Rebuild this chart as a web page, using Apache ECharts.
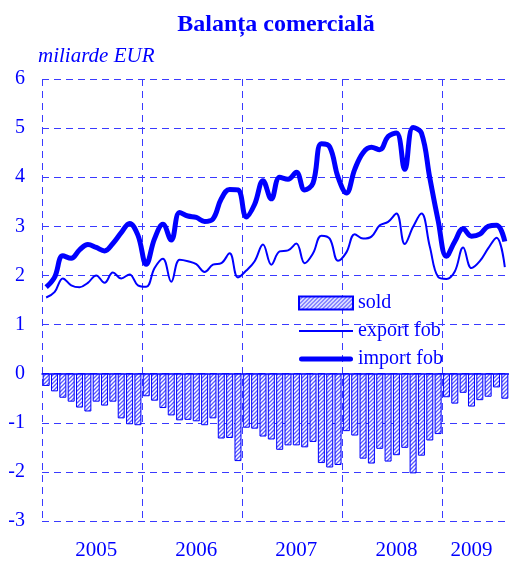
<!DOCTYPE html>
<html>
<head>
<meta charset="utf-8">
<title>Balanța comercială</title>
<script src="https://cdn.jsdelivr.net/npm/echarts@6/dist/echarts.min.js"></script>
<style>
  html, body { margin: 0; padding: 0; background: #fff; }
  #chart { width: 509px; height: 561px; }
</style>
</head>
<body>
<div id="chart"></div>
<script>
// luni: ian 2005 - aug 2009
const years = ["2005", "2006", "2007", "2008", "2009"];
const monthsPerYear = [12, 12, 12, 12, 8];
const yearLabelIdx = [6, 18, 30, 42, 51];

const importFob = [
  1.76, 1.96, 2.40, 2.35, 2.52, 2.63, 2.57, 2.50, 2.65, 2.87, 3.06, 2.82,
  2.23, 2.75, 3.04, 2.72, 3.28, 3.21, 3.18, 3.10, 3.15, 3.56, 3.75, 3.74,
  3.19, 3.45, 3.93, 3.56, 4.00, 3.96, 4.10, 3.74, 3.88, 4.68, 4.62, 4.00,
  3.68, 4.16, 4.50, 4.61, 4.56, 4.83, 4.90, 4.16, 5.01, 4.90, 3.99, 3.12,
  2.39, 2.69, 2.95, 2.80, 2.84, 3.00, 3.02, 2.69
];
const exportFob = [
  1.55, 1.66, 1.94, 1.80, 1.76, 1.85, 2.00, 1.85, 2.06, 1.94, 2.02, 1.80,
  1.77, 2.15, 2.34, 1.87, 2.32, 2.29, 2.23, 2.07, 2.22, 2.25, 2.45, 1.96,
  2.10, 2.29, 2.63, 2.22, 2.49, 2.51, 2.65, 2.25, 2.45, 2.81, 2.75, 2.30,
  2.47, 2.84, 2.75, 2.79, 3.02, 3.09, 3.26, 2.64, 2.99, 3.26, 2.59, 1.97,
  1.93, 2.08, 2.57, 2.15, 2.29, 2.55, 2.77, 2.17
];
const sold = [
  -0.25, -0.36, -0.49, -0.57, -0.69, -0.77, -0.57, -0.65, -0.57, -0.91, -1.03, -1.05,
  -0.46, -0.55, -0.70, -0.85, -0.95, -0.94, -0.97, -1.05, -0.91, -1.32, -1.31, -1.78,
  -1.10, -1.12, -1.28, -1.34, -1.55, -1.46, -1.46, -1.50, -1.39, -1.82, -1.91, -1.86,
  -1.17, -1.26, -1.73, -1.83, -1.53, -1.79, -1.66, -1.51, -2.03, -1.67, -1.36, -1.23,
  -0.48, -0.61, -0.39, -0.67, -0.54, -0.47, -0.28, -0.51
];

const months = [];
years.forEach((y, k) => {
  for (let m = 1; m <= monthsPerYear[k]; m++) {
    months.push(y + "-" + String(m).padStart(2, "0"));
  }
});

const BLUE = "#0000ff";
const GRID = "#3a3aff";
const FONT = "Liberation Serif";

// hasura pentru bare
function hatch() {
  const c = document.createElement("canvas");
  c.width = 4;
  c.height = 4;
  const ctx = c.getContext("2d");
  ctx.fillStyle = "#ffffff";
  ctx.fillRect(0, 0, 4, 4);
  ctx.strokeStyle = "#5a5aff";
  ctx.lineWidth = 1.3;
  ctx.beginPath();
  ctx.moveTo(0, 4); ctx.lineTo(4, 0);
  ctx.moveTo(-1, 1); ctx.lineTo(1, -1);
  ctx.moveTo(3, 5); ctx.lineTo(5, 3);
  ctx.stroke();
  return { image: c, repeat: "repeat" };
}

const chart = echarts.init(document.getElementById("chart"));
chart.setOption({
  animation: false,
  title: [
    {
      text: "Balanța comercială",
      left: 271,
      top: 8,
      textAlign: "center",
      textStyle: { color: BLUE, fontFamily: FONT, fontWeight: "bold", fontSize: 24 }
    },
    {
      text: "miliarde EUR",
      left: 38,
      top: 46,
      padding: 0,
      textStyle: { color: BLUE, fontFamily: FONT, fontStyle: "italic", fontWeight: "normal", fontSize: 21 }
    }
  ],
  grid: { left: 42, right: 0, top: 79, bottom: 35 },
  legend: {
    orient: "vertical",
    left: 298,
    top: 293,
    padding: 0,
    itemWidth: 54,
    itemHeight: 13,
    itemGap: 8,
    textStyle: { color: BLUE, fontFamily: FONT, fontSize: 20 },
    data: [
      { name: "sold", icon: "rect" },
      { name: "export fob", icon: "path://M0,0H54V2H0Z" },
      { name: "import fob", icon: "path://M2.5,0H51.5A2.5,2.5,0,0,1,51.5,5H2.5A2.5,2.5,0,0,1,2.5,0Z" }
    ]
  },
  xAxis: {
    type: "category",
    data: months,
    boundaryGap: true,
    axisLine: { onZero: true, lineStyle: { color: BLUE, width: 1.5 } },
    axisTick: { show: false },
    axisLabel: {
      interval: (idx) => yearLabelIdx.includes(idx),
      formatter: (v) => v.slice(0, 4),
      color: BLUE,
      fontFamily: FONT,
      fontSize: 21,
      margin: 19
    },
    splitLine: {
      show: true,
      interval: (idx) => idx % 12 === 0,
      lineStyle: { color: GRID, type: [7, 5], width: 1 }
    }
  },
  yAxis: {
    type: "value",
    min: -3,
    max: 6,
    interval: 1,
    axisLine: { show: false },
    axisTick: { show: false },
    axisLabel: { color: BLUE, fontFamily: FONT, fontSize: 20, margin: 17 },
    splitLine: { lineStyle: { color: GRID, type: [7, 5], width: 1 } }
  },
  series: [
    {
      name: "sold",
      type: "bar",
      data: sold,
      barCategoryGap: "16%",
      itemStyle: { color: hatch(), borderColor: BLUE, borderWidth: 1 }
    },
    {
      name: "export fob",
      type: "line",
      data: exportFob,
      smooth: 0.4,
      symbol: "none",
      lineStyle: { color: BLUE, width: 2 },
      itemStyle: { color: BLUE },
      z: 5
    },
    {
      name: "import fob",
      type: "line",
      data: importFob,
      smooth: 0.4,
      symbol: "none",
      lineStyle: { color: BLUE, width: 5 },
      itemStyle: { color: BLUE },
      z: 6
    }
  ]
});
</script>
</body>
</html>
